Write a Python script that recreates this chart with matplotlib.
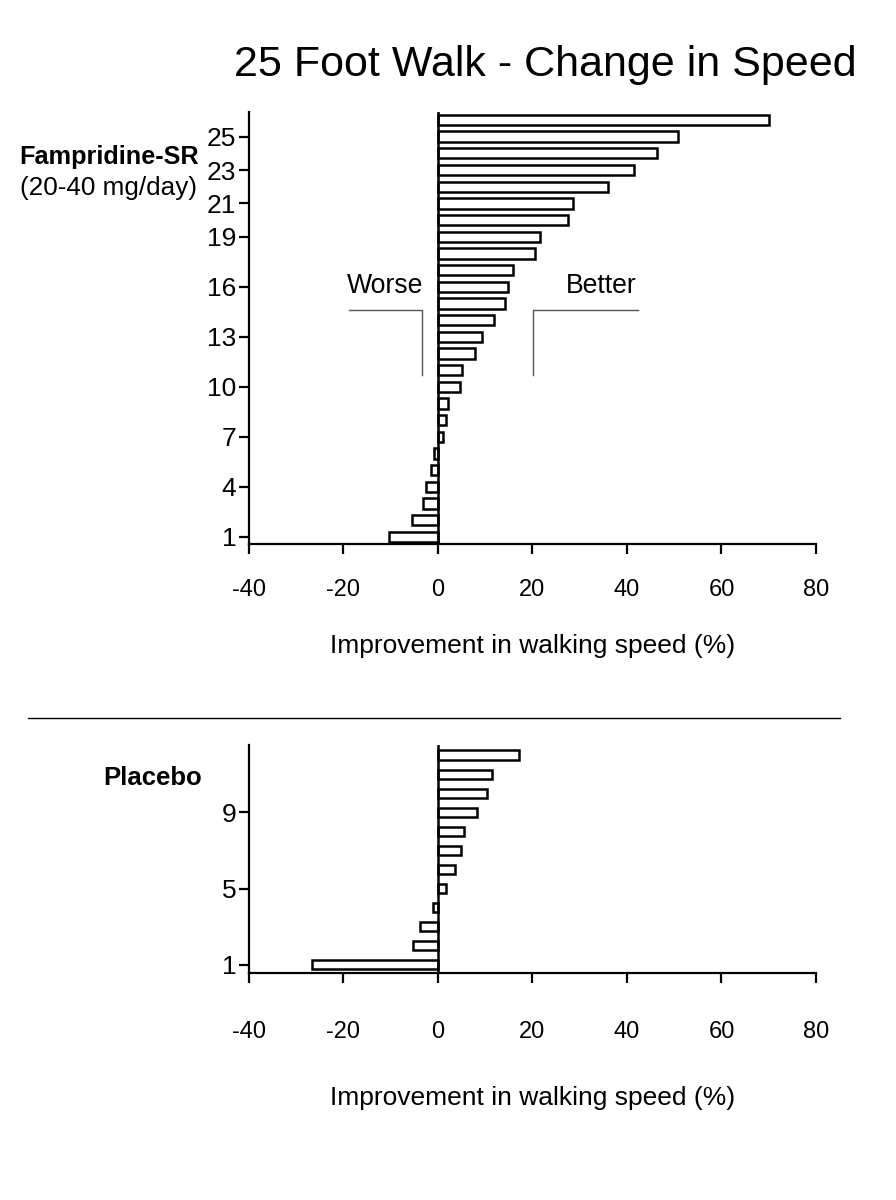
import matplotlib
matplotlib.use("Agg")
import matplotlib.pyplot as plt
from matplotlib.lines import Line2D

plt.rcParams['font.family'] = ['Liberation Sans', 'DejaVu Sans']

# Data
famp_values = [-10.3, -5.6, -3.2, -2.5, -1.5, -0.9, 1.1, 1.8, 2.1, 4.6, 5.1, 7.8, 9.3,
               11.8, 14.1, 14.8, 15.9, 20.6, 21.6, 27.5, 28.6, 36.0, 41.4, 46.4, 50.9, 70.0]
famp_ticks = [1, 4, 7, 10, 13, 16, 19, 21, 23, 25]
plac_values = [-26.6, -5.2, -3.8, -1.1, 1.6, 3.7, 4.8, 5.4, 8.2, 10.4, 11.4, 17.2]
plac_ticks = [1, 5, 9]
x_ticks = [-40, -20, 0, 20, 40, 60, 80]
title = "25 Foot Walk - Change in Speed"
xlabel = "Improvement in walking speed (%)"

fig = plt.figure(figsize=(8.96, 12), dpi=100)

def style(ax, values, yticks, ylim, height, xpad, lpad):
    pos = list(range(1, len(values) + 1))
    ax.barh(pos, values, height=height, facecolor='white', edgecolor='black', linewidth=1.8)
    ax.axvline(0, color='black', linewidth=1.8)
    ax.set_xlim(-40, 80)
    ax.set_ylim(*ylim)
    ax.set_xticks(x_ticks)
    ax.set_xticklabels([str(t) for t in x_ticks])
    ax.set_yticks(yticks)
    ax.spines['top'].set_visible(False)
    ax.spines['right'].set_visible(False)
    for s in ('left', 'bottom'):
        ax.spines[s].set_linewidth(1.6)
    ax.tick_params(axis='both', direction='out', length=7, width=1.6)
    ax.tick_params(axis='x', labelsize=17, pad=xpad)
    ax.tick_params(axis='y', labelsize=19, pad=2)
    ax.set_xlabel(xlabel, fontsize=19, labelpad=lpad)

ax1 = fig.add_axes([0.2779, 0.5467, 0.6328, 0.36])
style(ax1, famp_values, famp_ticks, (0.58, 26.48), 0.62, 18, 24)

ax2 = fig.add_axes([0.2779, 0.1892, 0.6328, 0.19])
style(ax2, plac_values, plac_ticks, (0.565, 12.54), 0.5, 27.5, 31)

fig.text(0.609, 0.946, title, fontsize=31, ha='center', va='center')

fig.text(0.022, 0.869, "Fampridine-SR", fontsize=18.2, fontweight='bold', ha='left', va='center')
fig.text(0.022, 0.843, "(20-40 mg/day)", fontsize=18.8, ha='left', va='center')
fig.text(0.115, 0.352, "Placebo", fontsize=18.5, fontweight='bold', ha='left', va='center')

# Worse / Better annotations
ax1.text(-11.2, 16.05, "Worse", fontsize=19.2, ha='center', va='center')
ax1.text(34.6, 16.05, "Better", fontsize=19.2, ha='center', va='center')
ax1.plot([-18.8, -3.4, -3.4], [14.61, 14.61, 10.71], color='#555555', linewidth=1.0)
ax1.plot([20.1, 20.1, 42.3], [10.71, 14.61, 14.61], color='#555555', linewidth=1.0)

# separator line
fig.add_artist(Line2D([28/896, 840/896], [1-718/1200, 1-718/1200], color='black', linewidth=1.0))

fig.savefig("out.png", dpi=100)
